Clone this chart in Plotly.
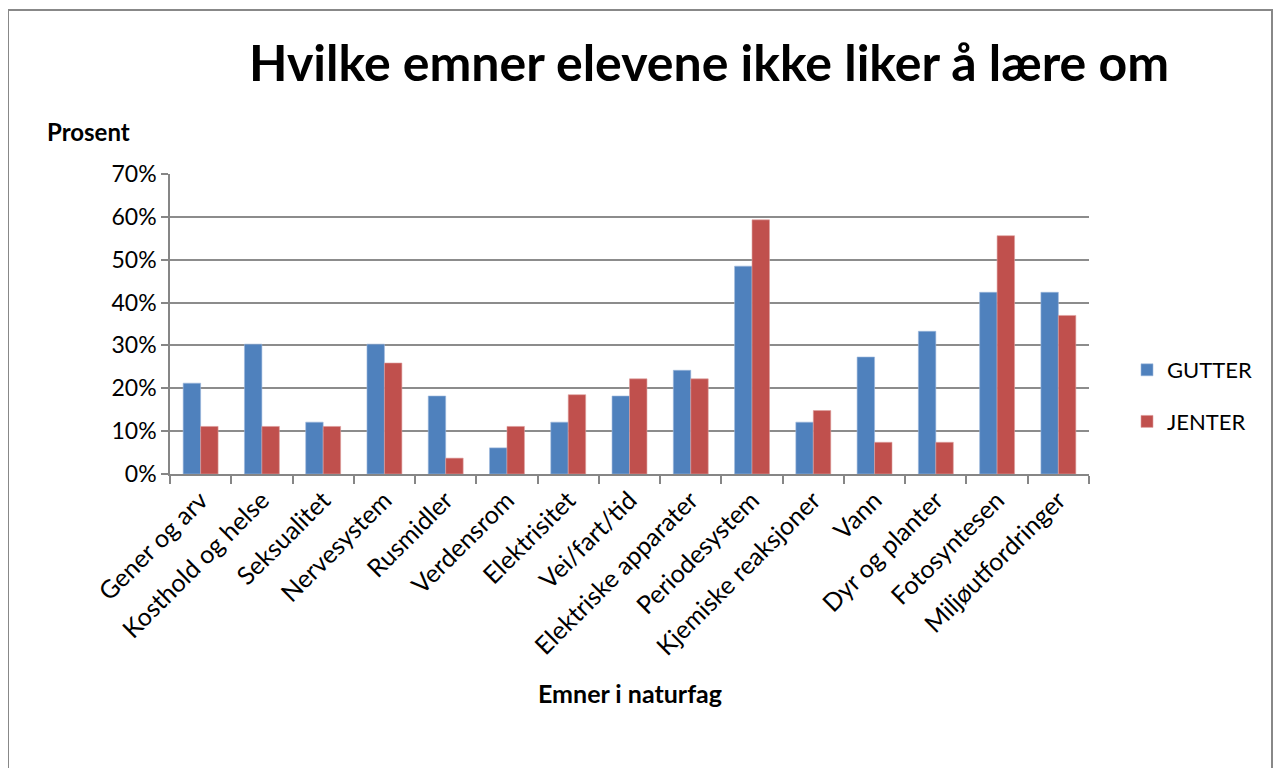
import plotly.graph_objects as go

categories = ["Gener og arv", "Kosthold og helse", "Seksualitet", "Nervesystem", "Rusmidler",
              "Verdensrom", "Elektrisitet", "Vei/fart/tid", "Elektriske apparater", "Periodesystem",
              "Kjemiske reaksjoner", "Vann", "Dyr og planter", "Fotosyntesen", "Miljøutfordringer"]
gutter = [21.2, 30.3, 12.1, 30.3, 18.2, 6.1, 12.1, 18.2, 24.2, 48.5, 12.1, 27.3, 33.3, 42.4, 42.4]
jenter = [11.1, 11.1, 11.1, 25.9, 3.7, 11.1, 18.5, 22.2, 22.2, 59.3, 14.8, 7.4, 7.4, 55.6, 37.0]
y_ticks = [0, 10, 20, 30, 40, 50, 60, 70]
y_tick_labels = [f"{v}%" for v in y_ticks]

FONT = "Lato"
OFF = 8  # browser body margin
W, H = 1282 - 2 * OFF, 776 - 2 * OFF
# plot area in screen pixels
SL, SR, ST, SB = 170, 1089, 174, 474
L, R, T, B = SL - OFF, SR - OFF, ST - OFF, SB - OFF

fig = go.Figure()
fig.add_trace(go.Bar(name="GUTTER", x=categories, y=gutter, marker_color="#4F81BD",
                     marker_line=dict(color="#9DB9DD", width=0.6), legendgroup="g"))
fig.add_trace(go.Bar(name="JENTER", x=categories, y=jenter, marker_color="#C0504D",
                     marker_line=dict(color="#DDA09E", width=0.6), legendgroup="j"))

pw, ph = SR - SL, SB - ST
def px_x(p):
    return (p - SL) / pw
def px_y(p):
    return (SB - p) / ph

fig.update_layout(
    width=W, height=H,
    margin=dict(l=L, r=W - R, t=T, b=H - B, autoexpand=False),
    paper_bgcolor="white", plot_bgcolor="white",
    barmode="group", bargap=0.43, bargroupgap=0,
    font=dict(family=FONT, color="black", size=22),
    title=dict(text="<b>Hvilke emner elevene ikke liker å lære om</b>",
               x=px_x(709), xref="paper", xanchor="center",
               y=1 - (63 - OFF) / H, yref="container", yanchor="middle",
               font=dict(family=FONT, size=50, color="black")),
    legend=dict(x=px_x(1127), y=px_y(396), xanchor="left", yanchor="middle",
                font=dict(family=FONT, size=22), tracegroupgap=20,
                traceorder="grouped", bgcolor="rgba(0,0,0,0)"),
    xaxis=dict(type="category", tickangle=-45, tickson="boundaries",
               ticks="outside", ticklen=8, tickcolor="#868686", tickwidth=1.5,
               showline=True, linecolor="#868686", linewidth=1.5, showgrid=False,
               tickfont=dict(family=FONT, size=25)),
    yaxis=dict(range=[0, 70], tickvals=y_ticks, ticktext=y_tick_labels,
               ticks="outside", ticklen=7, tickcolor="#868686", tickwidth=1.5,
               showline=True, linecolor="#868686", linewidth=1.5,
               showgrid=True, gridcolor="#8C8C8C", gridwidth=1.5, zeroline=False,
               tickfont=dict(family=FONT, size=23)),
    showlegend=True,
)

fig.add_annotation(text="<b>Prosent</b>", xref="paper", yref="paper",
                   x=px_x(45), y=px_y(131), xanchor="left", yanchor="middle",
                   showarrow=False, font=dict(family=FONT, size=24))
fig.add_annotation(text="<b>Emner i naturfag</b>", xref="paper", yref="paper",
                   x=px_x(630), y=px_y(693), xanchor="center", yanchor="middle",
                   showarrow=False, font=dict(family=FONT, size=25))

fig.add_shape(type="rect", xref="paper", yref="paper",
              x0=px_x(8), x1=px_x(1272), y0=px_y(800), y1=px_y(10),
              line=dict(color="#888888", width=2), fillcolor="rgba(0,0,0,0)", layer="below")

fig.write_html("out.html")
